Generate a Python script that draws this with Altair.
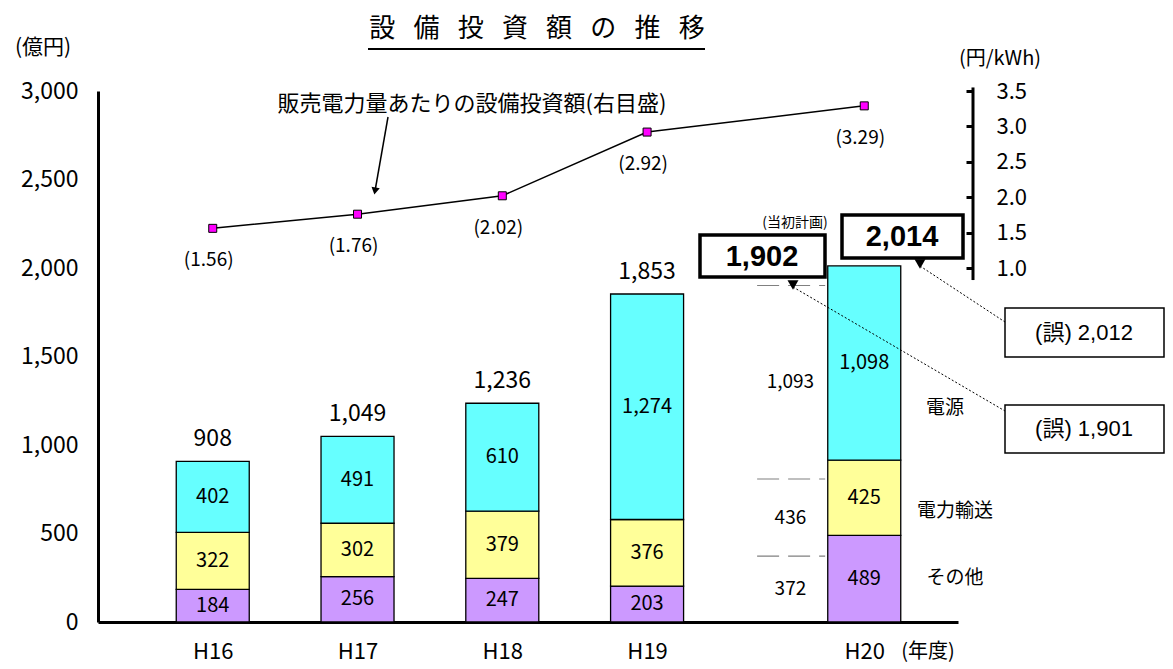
import altair as alt
import pandas as pd

# ---------------- data ----------------
years = ["H16", "H17", "H18", "H19", "H20"]
segments = ["その他", "電力輸送", "電源"]
other = [184, 256, 247, 203, 489]
transmission = [322, 302, 379, 376, 425]
generation = [402, 491, 610, 1274, 1098]
total_labels = [908, 1049, 1236, 1853, 2014]
per_kwh = [1.56, 1.76, 2.02, 2.92, 3.29]

plan_year = "H20"
plan_values = [372, 436, 1093]          # その他, 電力輸送, 電源 (当初計画)
plan_total_label = 1902
wrong_total = 2012
wrong_plan_total = 1901

left_ticks = [0, 500, 1000, 1500, 2000, 2500, 3000]
right_ticks = [1.0, 1.5, 2.0, 2.5, 3.0, 3.5]

# ---------------- layout ----------------
FONT = "Noto Sans CJK JP"
LATIN = "Liberation Sans, Noto Sans CJK JP"
W, H = 860, 531
slot = {"H16": 0, "H17": 1, "H18": 2, "H19": 3, "H20": 4.5}
colors = ["#CC99FF", "#FFFF99", "#66FFFF"]

xscale = alt.Scale(domain=[-0.758, 5.113], nice=False, zero=False)
yscale = alt.Scale(domain=[0, 3000], nice=False)
rscale = alt.Scale(domain=[-4.0, 3.5], nice=False, zero=False)

label_expr = " : ".join(f"datum.value == {slot[y]} ? '{y}'" for y in years) + " : ''"
xaxis = alt.Axis(values=[slot[y] for y in years], labelExpr=label_expr, title=None,
                 grid=False, ticks=False, tickSize=0, domainWidth=3, domainColor="black",
                 labelFontSize=22, labelFont=FONT, labelColor="black", labelPadding=19)
yaxis = alt.Axis(values=left_ticks, labelExpr="format(datum.value, ',')", title=None,
                 grid=False, ticks=False, tickSize=0,
                 domainWidth=3, domainColor="black", labelFontSize=23, labelFont=FONT,
                 labelColor="black", labelPadding=20)
raxis = alt.Axis(orient="right", values=right_ticks, labelExpr="format(datum.value, '.1f')",
                 title=None, grid=False,
                 domain=False, ticks=True, tickSize=7, tickWidth=3, tickColor="black",
                 offset=8, labelPadding=23, labelFontSize=22, labelFont=FONT,
                 labelColor="black", labelAlign="left")

rows = []
for i, y in enumerate(years):
    for k, (seg, vals) in enumerate(zip(segments, [other, transmission, generation])):
        rows.append({"year": y, "pos": slot[y], "segment": seg, "value": vals[i], "order": k})
df_bar = pd.DataFrame(rows)

df_tot = pd.DataFrame({"year": years[:-1], "pos": [slot[y] for y in years[:-1]],
                       "total": total_labels[:-1]})

cum = [sum(plan_values[:i + 1]) for i in range(len(plan_values))]
df_plan = pd.DataFrame({"pos": [slot[plan_year]] * 3, "level": cum,
                        "mid": [(c - v / 2) for c, v in zip(cum, plan_values)],
                        "value": plan_values})

df_line = pd.DataFrame({"year": years, "pos": [slot[y] for y in years], "v": per_kwh})

# ---------------- bar group ----------------
bars = alt.Chart(df_bar).mark_bar(size=73, stroke="black", strokeWidth=1.3).encode(
    x=alt.X("pos:Q", scale=xscale, axis=xaxis),
    y=alt.Y("value:Q", stack="zero", scale=yscale, axis=yaxis),
    color=alt.Color("segment:N", scale=alt.Scale(domain=segments, range=colors), legend=None),
    order=alt.Order("order:Q"),
)

seg_text = alt.Chart(df_bar).transform_stack(
    stack="value", groupby=["year"], as_=["y0", "y1"], sort=[alt.SortField("order", "ascending")]
).transform_calculate(mid="(datum.y0 + datum.y1) / 2").mark_text(
    fontSize=20, font=FONT, color="black").encode(
    x=alt.X("pos:Q", scale=xscale, axis=xaxis),
    y=alt.Y("mid:Q", scale=yscale, axis=yaxis),
    text=alt.Text("value:Q", format=","),
)

tot_text = alt.Chart(df_tot).mark_text(fontSize=23, font=FONT, dy=-22, color="black").encode(
    x=alt.X("pos:Q", scale=xscale, axis=xaxis),
    y=alt.Y("total:Q", scale=yscale, axis=yaxis),
    text=alt.Text("total:Q", format=","),
)

plan_lines = alt.Chart(df_plan).transform_calculate(
    xa="datum.pos - 0.74", xb="datum.pos - 0.27").mark_rule(
    color="#808080", strokeWidth=1.2, strokeDash=[22, 9]).encode(
    x=alt.X("xa:Q", scale=xscale, axis=xaxis), x2="xb:Q",
    y=alt.Y("level:Q", scale=yscale, axis=yaxis),
)

plan_text = alt.Chart(df_plan).transform_calculate(xl="datum.pos - 0.51").mark_text(
    fontSize=19, font=FONT, color="black").encode(
    x=alt.X("xl:Q", scale=xscale, axis=xaxis),
    y=alt.Y("mid:Q", scale=yscale, axis=yaxis),
    text=alt.Text("value:Q", format=","),
)


def one():
    return alt.Chart(pd.DataFrame({"a": [0]}))


def txt(s, x, y, size, weight="normal", font=FONT, align="center"):
    return alt.Chart(pd.DataFrame({"t": [s]})).mark_text(
        fontSize=size, fontWeight=weight, font=font, align=align, baseline="middle",
        color="black").encode(x=alt.value(x), y=alt.value(y), text="t:N")


def box(x1, y1, x2, y2, sw):
    return one().mark_rect(fill="white", stroke="black", strokeWidth=sw).encode(
        x=alt.value(x1), x2=alt.value(x2), y=alt.value(y1), y2=alt.value(y2))


def seg(x1, y1, x2, y2, sw=1, dash=None, color="black"):
    kw = dict(color=color, strokeWidth=sw)
    if dash:
        kw["strokeDash"] = dash
    return one().mark_rule(**kw).encode(
        x=alt.value(x1), x2=alt.value(x2), y=alt.value(y1), y2=alt.value(y2))


def tri(x, y, size=130, angle=0):
    return one().mark_point(shape="triangle-down", filled=True, color="black", size=size,
                            opacity=1, angle=angle).encode(x=alt.value(x), y=alt.value(y))


SP = "\u2002\u2009"
annotations = [
    txt(SP.join("設備投資額の推移"), 439, -62, 26),
    seg(270, -42, 607, -42, sw=2),
    txt("(億円)", -55, -43, 21),
    txt("(円/kWh)", 902, -32, 20),
    txt("(年度)", 830, 561, 20),
    txt("販売電力量あたりの設備投資額(右目盛)", 374, 13, 22),
    seg(290, 26, 277, 100, sw=1.5),
    tri(277, 100, size=70, angle=10),
    txt("電源", 847, 317, 19),
    txt("電力輸送", 857, 420, 19),
    txt("その他", 857, 487, 19),
    seg(695, 196, 907, 320, sw=1, dash=[2, 2]),
    seg(822, 175, 907, 231, sw=1, dash=[2, 2]),
    box(602, 144, 727, 186, 3.5),
    txt(f"{plan_total_label:,}", 664, 166, 29, weight="bold", font=LATIN),
    box(744, 124, 865, 167, 3.5),
    txt(f"{total_labels[-1]:,}", 804, 146, 29, weight="bold", font=LATIN),
    txt("(当初計画)", 697, 132, 14),
    tri(695, 194, size=120),
    tri(822, 173, size=120),
    box(907, 217, 1066, 266, 1.5),
    txt(f"(誤) {wrong_total:,}", 986, 242, 22, font=LATIN),
    box(907, 314, 1066, 362, 1.5),
    txt(f"(誤) {wrong_plan_total:,}", 986, 338, 22, font=LATIN),
]

bar_group = alt.layer(bars, seg_text, tot_text, plan_lines, plan_text, *annotations)

# ---------------- line group (right axis) ----------------
df_raxis = pd.DataFrame({"a": [3.55], "b": [0.83]})
r_line = alt.Chart(df_raxis).mark_rule(color="black", strokeWidth=3).encode(
    x=alt.value(W + 15),
    y=alt.Y("a:Q", scale=rscale, axis=raxis), y2="b:Q",
)
line = alt.Chart(df_line).mark_line(color="black", strokeWidth=1.5).encode(
    x=alt.X("pos:Q", scale=xscale, axis=xaxis),
    y=alt.Y("v:Q", scale=rscale, axis=raxis),
)
pts = alt.Chart(df_line).mark_point(shape="square", filled=True, fill="#FF00FF", stroke="black",
                                    strokeWidth=1, size=64, opacity=1).encode(
    x=alt.X("pos:Q", scale=xscale, axis=xaxis),
    y=alt.Y("v:Q", scale=rscale, axis=raxis),
)
pt_text = alt.Chart(df_line).transform_calculate(
    lab="'(' + format(datum.v, '.2f') + ')'").mark_text(
    fontSize=19, font=FONT, dy=32, dx=-4, color="black").encode(
    x=alt.X("pos:Q", scale=xscale, axis=xaxis),
    y=alt.Y("v:Q", scale=rscale, axis=raxis),
    text="lab:N",
)
line_group = alt.layer(r_line, line, pts, pt_text)

chart = alt.layer(bar_group, line_group).resolve_scale(y="independent").properties(
    width=W, height=H,
    padding={"left": 90, "top": 83, "right": 207, "bottom": 44},
    autosize=alt.AutoSizeParams(type="none"),
    background="white",
).configure_view(strokeWidth=0)

chart.save("out.html", embed_options={"renderer": "svg", "actions": False})
